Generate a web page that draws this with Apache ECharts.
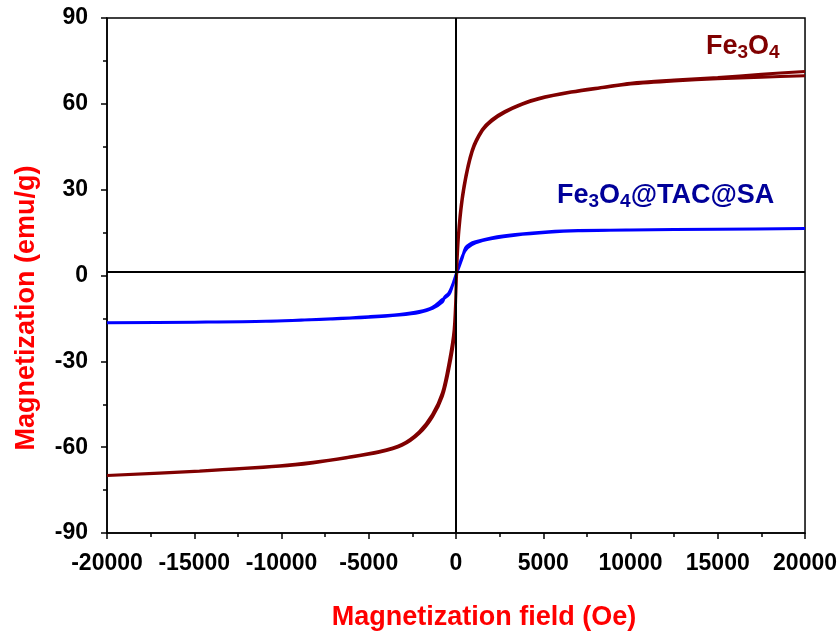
<!DOCTYPE html>
<html>
<head>
<meta charset="utf-8">
<script src="https://cdn.jsdelivr.net/npm/echarts@6/dist/echarts.min.js"></script>
<style>html,body{margin:0;padding:0;background:#fff}#c{width:840px;height:637px}</style>
</head>
<body>
<div id="c"></div>
<script>
// Fe3O4 – descending branch (from +20000 Oe)
const fe3o4DownField = [20000, 17500, 15000, 12500, 10000, 8500, 6600, 4700, 3800, 2800, 2050, 1500, 930, 450, 170, 40, -110, -400, -780, -1350, -2110, -3100, -4400, -6300, -8200, -10100, -14700, -20000];
const fe3o4DownMag   = [71.3, 70.3, 69.2, 68.3, 67.2, 65.9, 64.2, 61.9, 60.1, 57.4, 54.5, 51.0, 44.0, 31.2, 17.2, 1.0, -18.9, -30.5, -41.0, -48.6, -54.6, -59.0, -61.5, -63.6, -65.3, -66.5, -68.3, -69.9];
// Fe3O4 – ascending branch (from -20000 Oe)
const fe3o4UpField = [-20000, -14700, -10100, -8200, -6300, -4400, -3100, -2110, -1350, -780, -400, -110, 20, 170, 450, 930, 1500, 2050, 2800, 3800, 4700, 6600, 8500, 10000, 12500, 15000, 17500, 20000];
const fe3o4UpMag   = [-69.9, -68.4, -66.7, -65.5, -63.8, -61.8, -59.4, -55.2, -49.4, -42.2, -32.5, -21.5, -1.0, 15.5, 30.0, 43.2, 50.5, 54.0, 57.0, 59.8, 61.6, 64.0, 65.7, 66.9, 68.0, 68.8, 69.3, 69.8];
// Fe3O4@TAC@SA – descending branch
const compDownField = [20000, 15000, 10000, 7000, 5300, 3400, 2080, 1120, 800, 550, 360, 80, -210, -400, -780, -1350, -2110, -3250, -5000, -7070, -10900, -15000, -20000];
const compDownMag   = [16.4, 16.2, 15.9, 15.7, 15.3, 14.3, 13.2, 11.8, 11.0, 9.7, 6.2, 1.5, -3.7, -6.6, -8.4, -11.1, -12.6, -13.6, -14.4, -15.1, -16.0, -16.3, -16.5];
// Fe3O4@TAC@SA – ascending branch
const compUpField = [-20000, -15000, -10900, -7070, -5000, -3250, -2110, -1350, -780, -650, -400, -150, 120, 400, 650, 1120, 2080, 3400, 5300, 7000, 10000, 15000, 20000];
const compUpMag   = [-16.5, -16.3, -16.0, -15.2, -14.6, -13.8, -12.9, -11.5, -9.2, -7.6, -6.0, -2.5, 2.5, 7.2, 9.6, 11.4, 12.9, 14.1, 15.1, 15.6, 15.9, 16.2, 16.4];

const xTicks = {min: -20000, max: 20000, interval: 5000};
const yTicks = {min: -90, max: 90, interval: 30};
const zeroLineY = 1.2;

function pairs(f, m) { return f.map((v, i) => [v, m[i]]); }
const fe3o4Loop = pairs(fe3o4DownField, fe3o4DownMag).concat(pairs(fe3o4UpField, fe3o4UpMag));
const compLoop = pairs(compDownField, compDownMag).concat(pairs(compUpField, compUpMag));

const FF = '"Liberation Sans", Arial, sans-serif';
const chart = echarts.init(document.getElementById('c'));
const tickFont = {color: '#000', fontSize: 23, fontWeight: 'bold', fontFamily: FF};
function richLabel(color) {
  return {
    a: {fill: color, font: 'bold 27px ' + FF, verticalAlign: 'middle', lineHeight: 30},
    s: {fill: color, font: 'bold 19px ' + FF, verticalAlign: 'bottom', lineHeight: 12}
  };
}
chart.setOption({
  animation: false,
  backgroundColor: '#fff',
  grid: {left: 107, right: 33, top: 18, bottom: 104, show: true, borderColor: '#000', borderWidth: 1.5, backgroundColor: 'transparent'},
  xAxis: {
    type: 'value', min: xTicks.min, max: xTicks.max, interval: xTicks.interval,
    name: 'Magnetization field (Oe)', nameLocation: 'middle', nameGap: 71,
    nameTextStyle: {color: '#ff0000', fontSize: 27, fontWeight: 'bold', fontFamily: FF, verticalAlign: 'top', padding: [0, 0, 0, 56]},
    axisLine: {show: true, onZero: false, lineStyle: {color: '#000', width: 1.5}},
    axisTick: {show: true, inside: false, length: 6, lineStyle: {color: '#000', width: 1.5}},
    minorTick: {show: true, splitNumber: 2, length: 4, lineStyle: {color: '#000', width: 1.5}},
    splitLine: {show: false},
    axisLabel: Object.assign({margin: 19, formatter: v => String(v)}, tickFont)
  },
  yAxis: {
    type: 'value', min: yTicks.min, max: yTicks.max, interval: yTicks.interval,
    axisLine: {show: true, onZero: false, lineStyle: {color: '#000', width: 1.5}},
    axisTick: {show: true, inside: false, length: 6, lineStyle: {color: '#000', width: 1.5}},
    minorTick: {show: true, splitNumber: 2, length: 4, lineStyle: {color: '#000', width: 1.5}},
    splitLine: {show: false},
    axisLabel: Object.assign({margin: 19, formatter: v => String(v)}, tickFont)
  },
  graphic: [
    {type: 'text', x: 27, y: 308, rotation: Math.PI / 2,
     style: {text: 'Magnetization (emu/g)', fill: '#ff0000', font: 'bold 27px ' + FF, align: 'center', verticalAlign: 'middle'}},
    {type: 'text', x: 706, y: 47,
     style: {text: '{a|Fe}{s|3}{a|O}{s|4}', verticalAlign: 'middle', rich: richLabel('#800000')}},
    {type: 'text', x: 557, y: 196,
     style: {text: '{a|Fe}{s|3}{a|O}{s|4}{a|@TAC@SA}', verticalAlign: 'middle', rich: richLabel('#000099')}}
  ],
  series: [
    {type: 'line', name: 'Fe3O4@TAC@SA', data: compLoop, showSymbol: false, smooth: 0.3,
     lineStyle: {color: '#0000ff', width: 3}, z: 3},
    {type: 'line', name: 'Fe3O4', data: fe3o4Loop, showSymbol: false, smooth: 0.3,
     lineStyle: {color: '#800000', width: 3}, z: 4,
     markLine: {silent: true, symbol: 'none', label: {show: false},
       lineStyle: {color: '#000', width: 2, type: 'solid'},
       data: [{xAxis: 0}, {yAxis: zeroLineY}]}}
  ]
});
</script>
</body>
</html>
